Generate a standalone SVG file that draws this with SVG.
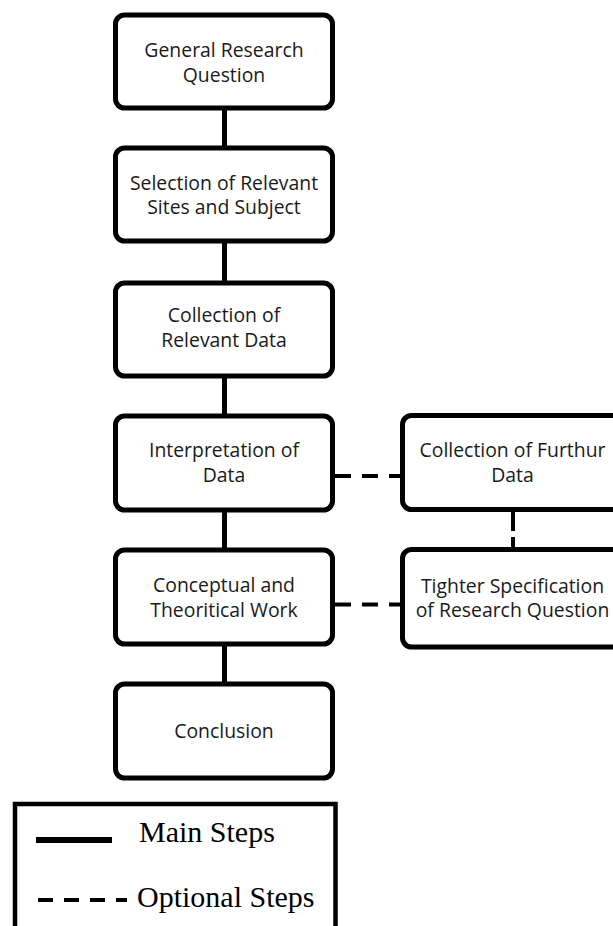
<svg xmlns="http://www.w3.org/2000/svg" width="613" height="926" viewBox="0 0 613 926">
<defs>
<style>
.box{fill:#fff;stroke:#000;stroke-width:5}
.t{font-family:"Open Sans","Liberation Sans",sans-serif;font-size:19.4px;fill:#1a1a1a;text-anchor:middle}
.solid{stroke:#000;stroke-width:5;fill:none}
.dash{stroke:#000;stroke-width:4;fill:none;stroke-dasharray:16 11}
.lg{font-family:"Liberation Serif","Times New Roman",serif;font-size:30px;fill:#000}
</style>
<filter id="sh" x="-20%" y="-200%" width="140%" height="500%"><feGaussianBlur stdDeviation="2"/></filter>
</defs>
<rect width="613" height="926" fill="#fff"/>
<g id="connectors">
<line class="solid" x1="224.5" y1="108" x2="224.5" y2="148"/>
<line class="solid" x1="224.5" y1="241" x2="224.5" y2="283"/>
<line class="solid" x1="224.5" y1="376" x2="224.5" y2="414"/>
<line class="solid" x1="224.5" y1="510" x2="224.5" y2="550"/>
<line class="solid" x1="224.5" y1="644" x2="224.5" y2="684"/>
<line class="dash" x1="335" y1="476" x2="402" y2="476"/>
<line class="dash" x1="335" y1="604.5" x2="402" y2="604.5"/>
<line class="dash" x1="513" y1="510" x2="513" y2="549" style="stroke-dasharray:21 6"/>
</g>
<g id="n1"><rect class="box" x="115.5" y="15" width="217" height="93" rx="9"/>
<text class="t" x="224" y="57">General Research</text><text class="t" x="224" y="82">Question</text></g>
<g id="n2"><rect class="box" x="115.5" y="148" width="217" height="93" rx="9"/>
<text class="t" x="224" y="189.5">Selection of Relevant</text><text class="t" x="224" y="214">Sites and Subject</text></g>
<g id="n3"><rect class="box" x="115.5" y="283" width="217" height="93" rx="9"/>
<text class="t" x="224" y="321.7">Collection of</text><text class="t" x="224" y="346.7">Relevant Data</text></g>
<g id="n4"><rect class="box" x="115.5" y="416" width="217" height="94" rx="9"/>
<text class="t" x="224" y="457">Interpretation of</text><text class="t" x="224" y="482">Data</text></g>
<g id="n5"><rect class="box" x="115.5" y="550" width="217" height="94" rx="9"/>
<text class="t" x="224" y="592">Conceptual and</text><text class="t" x="224" y="617">Theoritical Work</text></g>
<g id="n6"><rect class="box" x="115.5" y="684" width="217" height="94" rx="9"/>
<text class="t" x="224" y="738.3">Conclusion</text></g>
<g id="n7"><rect class="box" x="402.5" y="415.5" width="220" height="94" rx="9"/>
<text class="t" x="512.5" y="456.7">Collection of Furthur</text><text class="t" x="512.5" y="481.7">Data</text></g>
<g id="n8"><rect class="box" x="402.5" y="549.5" width="220" height="97.5" rx="9"/>
<text class="t" x="512.5" y="592.7">Tighter Specification</text><text class="t" x="512.5" y="616.7">of Research Question</text></g>
<g id="legend">
<rect x="15" y="804" width="320.5" height="140" fill="#fff" stroke="#000" stroke-width="4.5"/>
<line x1="37" y1="843" x2="112" y2="843" stroke="#888" stroke-width="6" filter="url(#sh)"/>
<line x1="36" y1="840" x2="112" y2="840" stroke="#000" stroke-width="6"/>
<text class="lg" x="139" y="842">Main Steps</text>
<line x1="38" y1="900" x2="127" y2="900" stroke="#000" stroke-width="4" stroke-dasharray="15 11"/>
<text class="lg" x="137" y="907">Optional Steps</text>
</g>
</svg>
